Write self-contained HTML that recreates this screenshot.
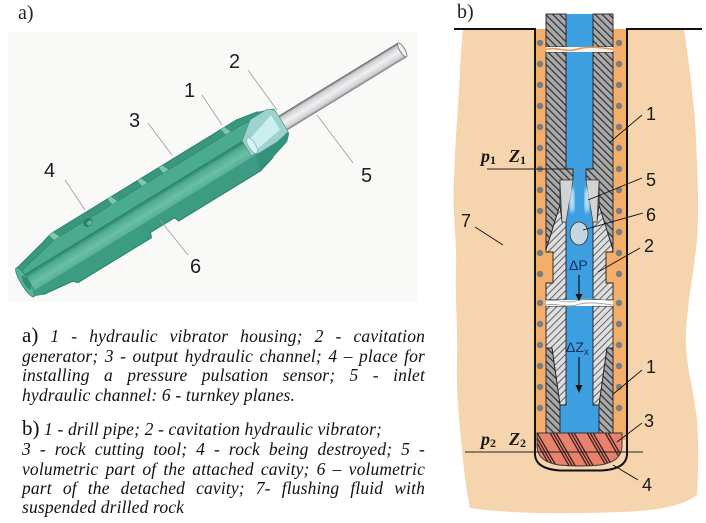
<!DOCTYPE html>
<html><head><meta charset="utf-8">
<style>
html,body{margin:0;padding:0;background:#fff;}
body{width:706px;height:523px;position:relative;overflow:hidden;}
svg{position:absolute;left:0;top:0;}
.cap{position:absolute;left:22px;width:403px;font-family:"Liberation Serif",serif;font-style:italic;font-size:17.5px;line-height:20px;color:#111;letter-spacing:0.15px;white-space:nowrap;}
.j{text-align:justify;text-align-last:justify;white-space:normal;}
.up{font-style:normal;font-size:21px;letter-spacing:0;}
</style></head><body>
<svg width="706" height="523" viewBox="0 0 706 523" xmlns="http://www.w3.org/2000/svg">
<defs>
 <pattern id="hd" patternUnits="userSpaceOnUse" width="5" height="5" patternTransform="rotate(-45)">
  <rect width="5" height="5" fill="#a9a9a9"/>
  <line x1="0.6" y1="0" x2="0.6" y2="5" stroke="#2e2e2e" stroke-width="1.2"/>
 </pattern>
 <pattern id="hl" patternUnits="userSpaceOnUse" width="5" height="5" patternTransform="rotate(45)">
  <rect width="5" height="5" fill="#dedede"/>
  <line x1="0.5" y1="0" x2="0.5" y2="5" stroke="#555" stroke-width="0.9"/>
 </pattern>
 <linearGradient id="tubeg" x1="0" y1="0" x2="0" y2="1">
  <stop offset="0" stop-color="#808080"/>
  <stop offset="0.15" stop-color="#cfcfd3"/>
  <stop offset="0.5" stop-color="#f0f0f2"/>
  <stop offset="0.85" stop-color="#d2d2d6"/>
  <stop offset="1" stop-color="#8e8e8e"/>
 </linearGradient>
 <linearGradient id="chg" x1="0" y1="0" x2="0" y2="1">
  <stop offset="0" stop-color="#287d64"/>
  <stop offset="0.25" stop-color="#4eac8f"/>
  <stop offset="0.65" stop-color="#6bbfa4"/>
  <stop offset="1" stop-color="#55b195"/>
 </linearGradient>
 <clipPath id="bitclip"><path d="M537,433 L622,433 L622,447 Q621,462 600,465 Q580,467 559,465 Q538,462 537,447 Z"/></clipPath>
 <filter id="blur1"><feGaussianBlur stdDeviation="1.5"/></filter>
</defs>

<!-- ============ PANEL A ============ -->
<rect x="8" y="32" width="410" height="270" fill="#f9f9f8"/>
<text x="18" y="19" font-family="Liberation Serif, serif" font-size="20" fill="#222">a)</text>

<g transform="translate(22,283) rotate(-31.5)">
 <!-- tube -->
 <rect x="300" y="-8" width="146" height="16" fill="url(#tubeg)"/>
 <line x1="300" y1="-8" x2="446" y2="-8" stroke="#6e6e6e" stroke-width="1.1"/>
 <line x1="300" y1="8" x2="446" y2="8" stroke="#808080" stroke-width="0.9"/>
 <ellipse cx="446" cy="0" rx="2.5" ry="8" fill="#f4f4f4" stroke="#777" stroke-width="0.9"/>
 <!-- body base -->
 <path d="M2,-15 L40,-24 L50,-27 L268,-27 L290,-23 L306,-17 L306,12 L300,18 L280,24 L262,29 L166,29 L164,24 L136,24 L134,29 L48,29 L44,25 L12,21 L2,17 Z" fill="#33937a"/>
 <!-- top outer band -->
 <path d="M2,-15 L40,-24 L50,-27 L268,-27 L290,-23 L290,-18 L268,-20 L50,-20 L40,-18 L4,-10 Z" fill="#3a977d"/>
 <!-- cut face upper wall -->
 <path d="M4,-10 L40,-18 L50,-20 L268,-20 L290,-18 L296,-16 L296,-6 L4,-6 Z" fill="#4aab8f"/>
 <path d="M4,-10 L40,-18 L50,-20 L268,-20 L290,-18" fill="none" stroke="#2f8a70" stroke-width="0.8"/>
 <path d="M2,-15 L40,-24 L50,-27 L268,-27 L290,-23" fill="none" stroke="#2c8569" stroke-width="1"/>
 <!-- channel -->
 <rect x="4" y="-6" width="262" height="19" fill="url(#chg)"/>
 <!-- lower face -->
 <path d="M4,13 L266,13 L262,29 L166,29 L164,24 L136,24 L134,29 L48,29 L44,25 L12,21 L4,17 Z" fill="#3b9c81"/>
 <path d="M12,21 L44,25 L48,29 L134,29 L136,24 L164,24 L166,29 L262,29 L280,24" fill="none" stroke="#2a7f66" stroke-width="1"/>
 <!-- steps on top band -->
 <path d="M48,-27 L53,-27 L56,-20 L50,-20 Z" fill="#7fc9b1"/>
 <path d="M117,-27 L121,-27 L124,-20 L118,-20 Z" fill="#7fc9b1"/>
 <path d="M152,-27 L156,-27 L159,-20 L153,-20 Z" fill="#7fc9b1"/>
 <path d="M177,-27 L181,-27 L184,-20 L178,-20 Z" fill="#7fc9b1"/>
 <path d="M250,-27 L254,-27 L257,-20 L251,-20 Z" fill="#7fc9b1"/>
 <ellipse cx="88" cy="-17" rx="5" ry="4" fill="#2a7d63"/>
 <ellipse cx="89" cy="-16" rx="3" ry="2.3" fill="#5ab69a"/>
 <!-- left end -->
 <ellipse cx="3" cy="1" rx="4" ry="17" fill="#56b396" stroke="#2c8a6e" stroke-width="0.8"/>
 <ellipse cx="4" cy="2" rx="2.5" ry="8" fill="#2f8d72"/>
 <!-- nozzle -->
 <path d="M262,-6 L280,-20 L300,-20 L306,-15 L306,10 L292,13 L270,13 L262,11 Z" fill="#9fd2cf" stroke="#4f9c92" stroke-width="0.7"/>
 <path d="M270,-4 L300,-13 L300,4 L270,9 Z" fill="#cdeeee"/>
 <ellipse cx="268" cy="3" rx="3.5" ry="9" fill="#d8f2f0" stroke="#6aa" stroke-width="0.6"/>
</g>

<!-- leaders a -->
<g stroke="#9a9a9a" stroke-width="0.8">
 <line x1="248" y1="70" x2="277" y2="110"/>
 <line x1="202" y1="95" x2="222" y2="125"/>
 <line x1="148" y1="123" x2="172" y2="155"/>
 <line x1="65" y1="180" x2="85" y2="210"/>
 <line x1="317" y1="115" x2="353" y2="163"/>
 <line x1="160" y1="220" x2="188" y2="255"/>
</g>
<g font-family="Liberation Sans, sans-serif" font-size="20" fill="#1e1e1e">
 <text x="229" y="68">2</text>
 <text x="184" y="97">1</text>
 <text x="129" y="127">3</text>
 <text x="44" y="177">4</text>
 <text x="361" y="182">5</text>
 <text x="190" y="273">6</text>
</g>

<!-- ============ PANEL B ============ -->
<text x="457" y="18" font-family="Liberation Serif, serif" font-size="20" fill="#222">b)</text>

<path d="M463,29 L684,29 C690,70 695,110 696,140 C698,180 699,215 697,240 C694,270 688,300 686,330 C684,360 694,390 697,420 C699,450 698,480 697,495 C680,508 650,511 620,512 C570,514 510,514 470,508 C466,490 464,470 462,450 C459,420 456,390 457,360 C458,330 455,300 456,270 C457,240 452,210 454,180 C455,140 459,100 460,70 C461,50 462,40 463,29 Z" fill="#f5d4ae"/>

<!-- annulus -->
<rect x="535" y="29" width="92" height="411" fill="#f3ae6b"/>
<g fill="#7d7d7d">
 <circle cx="540" cy="43" r="3.2"/><circle cx="619" cy="43" r="3.2"/>
 <circle cx="540" cy="64" r="3.2"/><circle cx="619" cy="64" r="3.2"/>
 <circle cx="540" cy="85" r="3.2"/><circle cx="619" cy="85" r="3.2"/>
 <circle cx="540" cy="106" r="3.2"/><circle cx="619" cy="106" r="3.2"/>
 <circle cx="540" cy="127" r="3.2"/><circle cx="619" cy="127" r="3.2"/>
 <circle cx="540" cy="148" r="3.2"/><circle cx="619" cy="148" r="3.2"/>
 <circle cx="540" cy="169" r="3.2"/><circle cx="619" cy="169" r="3.2"/>
 <circle cx="540" cy="190" r="3.2"/><circle cx="619" cy="190" r="3.2"/>
 <circle cx="540" cy="211" r="3.2"/><circle cx="619" cy="211" r="3.2"/>
 <circle cx="540" cy="232" r="3.2"/><circle cx="619" cy="232" r="3.2"/>
 <circle cx="540" cy="253" r="3.2"/><circle cx="619" cy="253" r="3.2"/>
 <circle cx="540" cy="274" r="3.2"/><circle cx="619" cy="274" r="3.2"/>
 <circle cx="540" cy="303" r="3.2"/><circle cx="619" cy="303" r="3.2"/>
 <circle cx="540" cy="324" r="3.2"/><circle cx="619" cy="324" r="3.2"/>
 <circle cx="540" cy="345" r="3.2"/><circle cx="619" cy="345" r="3.2"/>
 <circle cx="540" cy="366" r="3.2"/><circle cx="619" cy="366" r="3.2"/>
 <circle cx="540" cy="387" r="3.2"/><circle cx="619" cy="387" r="3.2"/>
 <circle cx="540" cy="408" r="3.2"/><circle cx="619" cy="408" r="3.2"/>
</g>

<!-- blue channel -->
<rect x="556" y="14" width="47" height="420" fill="#3d9fe0"/>

<g stroke="#222" stroke-width="0.9">
 <rect x="546" y="14" width="20" height="33" fill="url(#hd)"/>
 <rect x="593" y="14" width="20" height="33" fill="url(#hd)"/>
 <path d="M546,52 L566,52 L566,169 L573,169 L573,180 L560,180 L560,205 L546,250 Z" fill="url(#hd)"/>
 <path d="M613,52 L593,52 L593,169 L586,169 L586,180 L599,180 L599,205 L613,250 Z" fill="url(#hd)"/>
 <path d="M560,205 L562,222 L566,222 L566,300 L546,300 L546,283 L553,283 L553,252 L546,252 L546,250 Z" fill="url(#hl)"/>
 <path d="M599,205 L597,222 L593,222 L593,300 L613,300 L613,283 L606,283 L606,252 L613,252 L613,250 Z" fill="url(#hl)"/>
 <path d="M546,306 L566,306 L566,405 L560,405 L552,348 L546,348 Z" fill="url(#hl)"/>
 <path d="M613,306 L593,306 L593,405 L599,405 L607,348 L613,348 Z" fill="url(#hl)"/>
 <path d="M546,348 L552,348 L560,405 L560,433 L546,433 Z" fill="url(#hd)"/>
 <path d="M613,348 L607,348 L599,405 L599,433 L613,433 Z" fill="url(#hd)"/>
</g>
<path d="M560,180 L573,180 L566,222 L562,222 Z" fill="#d3d3d3" stroke="#444" stroke-width="0.7"/>
<path d="M599,180 L586,180 L593,222 L597,222 Z" fill="#d3d3d3" stroke="#444" stroke-width="0.7"/>
<ellipse cx="572" cy="200" rx="2.5" ry="13" fill="#eaf4fb" opacity="0.85" filter="url(#blur1)"/>
<ellipse cx="587" cy="200" rx="2.5" ry="13" fill="#eaf4fb" opacity="0.85" filter="url(#blur1)"/>
<ellipse cx="579" cy="233.5" rx="9" ry="11.5" fill="#c5d6e2" stroke="#333" stroke-width="0.8"/>

<!-- breaks -->
<rect x="546" y="47" width="67" height="5" fill="#fbf3ea"/>
<path d="M546,49.5 C556,46.5 566,52.5 576,49.5 S596,46.5 613,49.5" stroke="#e09a55" stroke-width="1.6" fill="none"/>
<rect x="546" y="300" width="67" height="6" fill="#ffffff"/>
<path d="M546,301 C556,298.5 566,304 576,301 S596,298.5 613,301" stroke="#999" stroke-width="0.8" fill="none"/>
<path d="M546,305 C556,302.5 566,308 576,305 S596,302.5 613,305" stroke="#999" stroke-width="0.8" fill="none"/>

<!-- bit -->
<path d="M537,433 L622,433 L622,447 Q621,462 600,465 Q580,467 559,465 Q538,462 537,447 Z" fill="#e8826c"/>
<g clip-path="url(#bitclip)" stroke="#3a2020" stroke-width="1.3">
 <line x1="530" y1="431" x2="552" y2="469"/><line x1="533" y1="431" x2="555" y2="469"/><line x1="536" y1="431" x2="558" y2="469"/>
 <line x1="549" y1="431" x2="571" y2="469"/><line x1="552" y1="431" x2="574" y2="469"/><line x1="555" y1="431" x2="577" y2="469"/>
 <line x1="567" y1="431" x2="589" y2="469"/><line x1="570" y1="431" x2="592" y2="469"/><line x1="573" y1="431" x2="595" y2="469"/>
 <line x1="586" y1="431" x2="608" y2="469"/><line x1="589" y1="431" x2="611" y2="469"/><line x1="592" y1="431" x2="614" y2="469"/>
 <line x1="604" y1="431" x2="626" y2="469"/><line x1="607" y1="431" x2="629" y2="469"/>
</g>
<path d="M537,433 L622,433 L622,447 Q621,462 600,465 Q580,467 559,465 Q538,462 537,447 Z" fill="none" stroke="#333" stroke-width="0.9"/>

<!-- ground and borehole -->
<line x1="454" y1="29" x2="536" y2="29" stroke="#111" stroke-width="2"/>
<line x1="626" y1="29" x2="702" y2="29" stroke="#111" stroke-width="2"/>
<path d="M535,29 L535,455 Q536,469 560,470.5 L602,470.5 Q626,469 627,455 L627,29" fill="none" stroke="#111" stroke-width="2"/>

<line x1="487" y1="169" x2="567" y2="169" stroke="#222" stroke-width="0.9"/>
<line x1="465" y1="452" x2="643" y2="452" stroke="#222" stroke-width="0.9"/>
<g font-family="Liberation Serif, serif" font-weight="bold" font-style="italic" font-size="18" fill="#1a1a1a">
 <text x="481" y="162">p<tspan font-size="12" font-style="normal" dy="2">1</tspan></text>
 <text x="509" y="162">Z<tspan font-size="12" font-style="normal" dy="2">1</tspan></text>
 <text x="481" y="445">p<tspan font-size="12" font-style="normal" dy="2">2</tspan></text>
 <text x="509" y="445">Z<tspan font-size="12" font-style="normal" dy="2">2</tspan></text>
</g>

<g font-family="Liberation Sans, sans-serif" font-size="14" fill="#15305c">
 <text x="569" y="270">ΔP</text>
 <text x="566" y="352">ΔZ<tspan font-size="10" dy="3">x</tspan></text>
</g>
<g stroke="#111" stroke-width="1.2">
 <line x1="579" y1="275" x2="579" y2="295"/>
 <line x1="579" y1="357" x2="579" y2="386"/>
</g>
<path d="M575.5,294 L582.5,294 L579,301 Z" fill="#111"/>
<path d="M575.5,385 L582.5,385 L579,393 Z" fill="#111"/>

<g stroke="#111" stroke-width="0.9">
 <line x1="609" y1="143" x2="642" y2="115"/>
 <line x1="588" y1="200" x2="642" y2="178"/>
 <line x1="583" y1="230" x2="643" y2="213"/>
 <line x1="598" y1="272" x2="640" y2="248"/>
 <line x1="475" y1="227" x2="503" y2="245"/>
 <line x1="612" y1="395" x2="642" y2="370"/>
 <line x1="617" y1="442" x2="642" y2="423"/>
 <line x1="613" y1="465" x2="638" y2="480"/>
</g>
<g font-family="Liberation Sans, sans-serif" font-size="18" fill="#1a1a1a">
 <text x="646" y="120">1</text>
 <text x="646" y="186">5</text>
 <text x="646" y="221">6</text>
 <text x="644" y="252">2</text>
 <text x="461" y="227">7</text>
 <text x="646" y="373">1</text>
 <text x="644" y="427">3</text>
 <text x="642" y="491">4</text>
</g>
</svg>

<div class="cap j" style="top:325px"><span class="up">a)</span> 1 - hydraulic vibrator housing; 2 - cavitation</div>
<div class="cap j" style="top:345.5px">generator; 3 - output hydraulic channel; 4 – place for</div>
<div class="cap j" style="top:365px">installing a pressure pulsation sensor; 5 - inlet</div>
<div class="cap" style="top:384.5px">hydraulic channel: 6 - turnkey planes.</div>

<div class="cap" style="top:418px"><span class="up">b)</span> 1 - drill pipe; 2 - cavitation hydraulic vibrator;</div>
<div class="cap j" style="top:439px">3 - rock cutting tool; 4 - rock being destroyed; 5 -</div>
<div class="cap j" style="top:458.5px">volumetric part of the attached cavity; 6 – volumetric</div>
<div class="cap j" style="top:478px">part of the detached cavity; 7- flushing fluid with</div>
<div class="cap" style="top:497px">suspended drilled rock</div>
</body></html>
